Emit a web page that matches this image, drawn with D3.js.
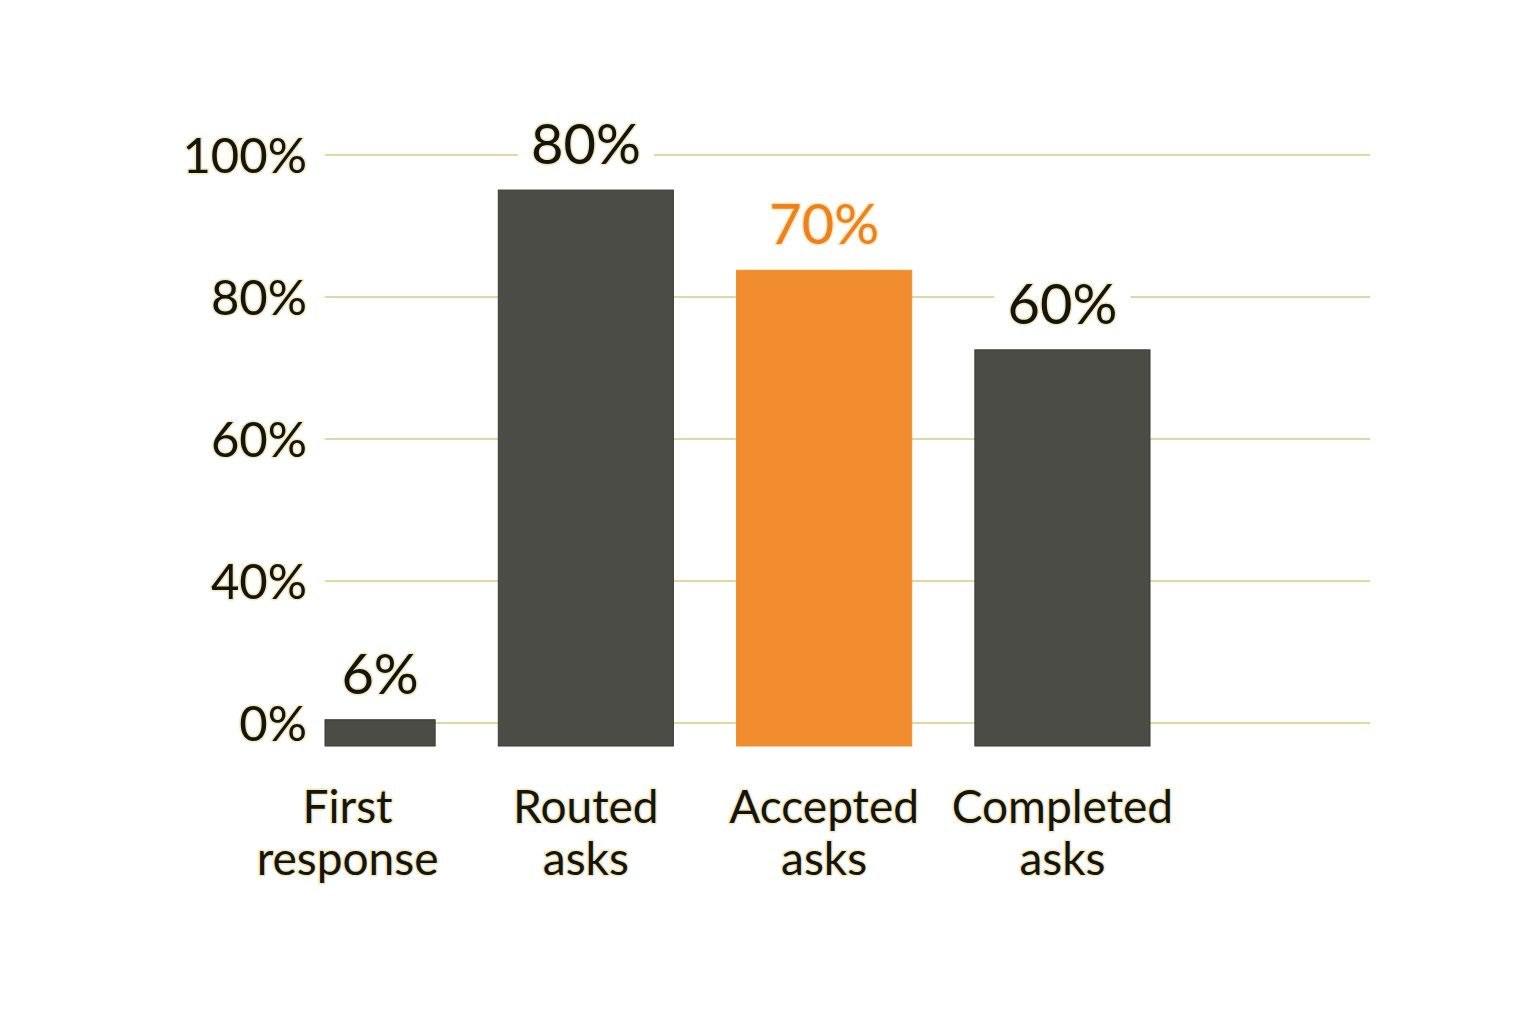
<!DOCTYPE html>
<html>
<head>
<meta charset="utf-8">
<script src="https://cdn.jsdelivr.net/npm/d3@7"></script>
<style>
  html, body { margin: 0; padding: 0; background: #fff; }
  svg text { font-family: Lato, 'Noto Sans', sans-serif; paint-order: stroke; stroke-linejoin: round; }
</style>
</head>
<body>
<svg id="chart" width="1536" height="1024"></svg>
<script>
// Funnel categories and the labelled values
const categories = ['First response', 'Routed asks', 'Accepted asks', 'Completed asks'];
const valueLabels = [6, 80, 70, 60];
// bar heights as drawn in the picture (same units as the value labels)
const barHeights = [3.7, 78.3, 67, 55.8];
const highlight = 'Accepted asks';
const yTickLabels = ['100%', '80%', '60%', '40%', '0%'];

const svg = d3.select('#chart');
svg.selectAll('*').remove();

const plot = { left: 325, right: 1370, top: 155, gridBottom: 723, base: 746 };

const x = d3.scaleBand()
  .domain(categories)
  .range([260, 1150])
  .paddingInner(0.265);

// gridlines: evenly spaced ticks
const yGrid = d3.scalePoint().domain(yTickLabels).range([plot.top, plot.gridBottom]);
// bars
const yBar = d3.scaleLinear().domain([0, 100]).range([plot.base, plot.base - 710]);

const ink = '#15150f';
const halo = '#f4e8bd';

// gridlines
svg.append('g')
  .selectAll('line')
  .data(yTickLabels)
  .join('line')
  .attr('x1', plot.left)
  .attr('x2', plot.right)
  .attr('y1', (d) => yGrid(d))
  .attr('y2', (d) => yGrid(d))
  .attr('stroke', '#e3d7a3')
  .attr('stroke-width', 2);

// y tick labels
svg.append('g')
  .selectAll('text')
  .data(yTickLabels)
  .join('text')
  .attr('x', 307)
  .attr('y', (d) => yGrid(d))
  .attr('dy', '0.36em')
  .attr('text-anchor', 'end')
  .attr('font-size', 49)
  .attr('fill', ink)
  .attr('stroke', halo)
  .attr('stroke-width', 3)
  .text((d) => d);

const rows = categories.map((c, i) => ({
  cat: c, value: valueLabels[i], h: barHeights[i],
}));

const barX0 = (d) => Math.max(x(d.cat), plot.left);
const barX1 = (d) => x(d.cat) + x.bandwidth();

// bars
svg.append('g')
  .selectAll('rect')
  .data(rows)
  .join('rect')
  .attr('x', barX0)
  .attr('width', (d) => barX1(d) - barX0(d))
  .attr('y', (d) => yBar(d.h))
  .attr('height', (d) => yBar(0) - yBar(d.h))
  .attr('fill', (d) => (d.cat === highlight ? '#f28d2f' : '#4c4c47'))
  .attr('stroke', (d) => (d.cat === highlight ? '#f28d2f' : '#3b3b37'))
  .attr('stroke-width', 1);

// value labels with a white knockout behind them
const vl = svg.append('g')
  .selectAll('g')
  .data(rows)
  .join('g')
  .attr('transform', (d) => `translate(${(barX0(d) + barX1(d)) / 2},${yBar(d.h) - 26})`);

vl.append('rect')
  .attr('x', -68)
  .attr('y', -52)
  .attr('width', 136)
  .attr('height', 64)
  .attr('fill', '#fff');

vl.append('text')
  .attr('text-anchor', 'middle')
  .attr('font-size', 56)
  .attr('fill', (d) => (d.cat === highlight ? '#f0801c' : ink))
  .attr('stroke', halo)
  .attr('stroke-width', 3)
  .text((d) => `${d.value}%`);

// category labels, two lines
const xl = svg.append('g')
  .selectAll('text')
  .data(categories)
  .join('text')
  .attr('x', (d) => x(d) + x.bandwidth() / 2)
  .attr('y', 823)
  .attr('text-anchor', 'middle')
  .attr('font-size', 46)
  .attr('fill', ink)
  .attr('stroke', halo)
  .attr('stroke-width', 3);

xl.each(function (d) {
  const words = d.split(' ');
  const t = d3.select(this);
  words.forEach((w, i) => {
    t.append('tspan')
      .attr('x', x(d) + x.bandwidth() / 2)
      .attr('dy', i === 0 ? 0 : 52)
      .text(w);
  });
});
</script>
</body>
</html>
